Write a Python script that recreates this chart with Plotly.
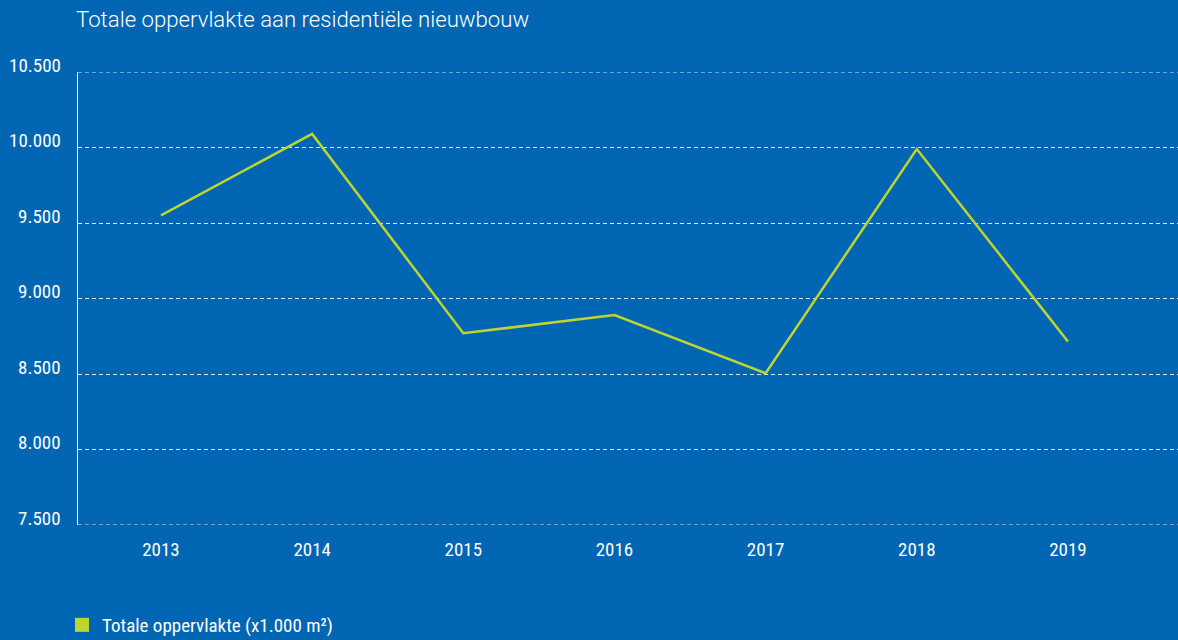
import plotly.graph_objects as go

# Total floor area of new residential construction (x1.000 m²)
years = [2013, 2014, 2015, 2016, 2017, 2018, 2019]
area = [9550, 10090, 8770, 8890, 8505, 9990, 8715]

y_ticks = [7500, 8000, 8500, 9000, 9500, 10000, 10500]
y_labels = ["7.500", "8.000", "8.500", "9.000", "9.500", "10.000", "10.500"]
x_labels = [str(y) for y in years]

title_text = "Totale oppervlakte aan residentiële nieuwbouw"
series_name = "Totale oppervlakte (x1.000 m²)"

BG = "#0066B3"
LINE = "#BCD530"
GRID = "rgba(255,255,255,0.85)"
NARROW = "Roboto Condensed, Liberation Sans Narrow, sans-serif"

fig = go.Figure()

fig.add_trace(go.Scatter(
    x=years, y=area, mode="lines",
    line=dict(color=LINE, width=2.5),
    showlegend=False, hoverinfo="x+y",
))

# Legend entry drawn as a filled square
fig.add_trace(go.Scatter(
    x=[None], y=[None], mode="markers", name=series_name,
    marker=dict(symbol="square", size=14, color=LINE),
    showlegend=True,
))

# Dashed lines at the two ends of the value range
for v in (y_ticks[0], y_ticks[-1]):
    fig.add_shape(
        type="line", xref="paper", x0=0, x1=1, yref="y", y0=v, y1=v,
        line=dict(color=GRID, width=1, dash="4px,3px"), layer="below",
    )

# Value labels sit just above their grid line
for v, t in zip(y_ticks, y_labels):
    fig.add_annotation(
        xref="paper", x=0, xanchor="right", xshift=-15,
        yref="y", y=v, yanchor="middle", yshift=7,
        text=t, showarrow=False,
        font=dict(family=NARROW, size=19, color="white"),
    )

fig.update_layout(
    width=1178, height=640,
    paper_bgcolor=BG, plot_bgcolor=BG,
    margin=dict(l=78, r=0, t=72, b=115, autoexpand=False),
    title=dict(
        text=title_text, xref="container", yref="container",
        x=76 / 1178, xanchor="left", y=1 - 19 / 640, yanchor="middle",
        font=dict(family="Roboto, Lato, sans-serif", size=22.2, color="white", weight=300),
    ),
    legend=dict(
        xref="container", yref="container",
        x=62 / 1178, xanchor="left", y=1 - 625 / 640, yanchor="middle",
        font=dict(family=NARROW, size=19, color="white"),
        bgcolor="rgba(0,0,0,0)",
    ),
    xaxis=dict(
        range=[2012.451, 2019.728],
        tickmode="array", tickvals=years, ticktext=x_labels,
        showgrid=False, zeroline=False, showline=False, ticks="",
        ticklabelstandoff=11,
        tickfont=dict(family=NARROW, size=19, color="white"),
        fixedrange=True,
    ),
    yaxis=dict(
        range=[7500, 10500],
        tickmode="array", tickvals=y_ticks, showticklabels=False,
        showgrid=True, gridcolor=GRID, gridwidth=1,
        griddash="4px,3px",
        zeroline=False, showline=True, linecolor="white", linewidth=1,
        ticks="",
        fixedrange=True,
    ),
)

fig.write_html("out.html")
